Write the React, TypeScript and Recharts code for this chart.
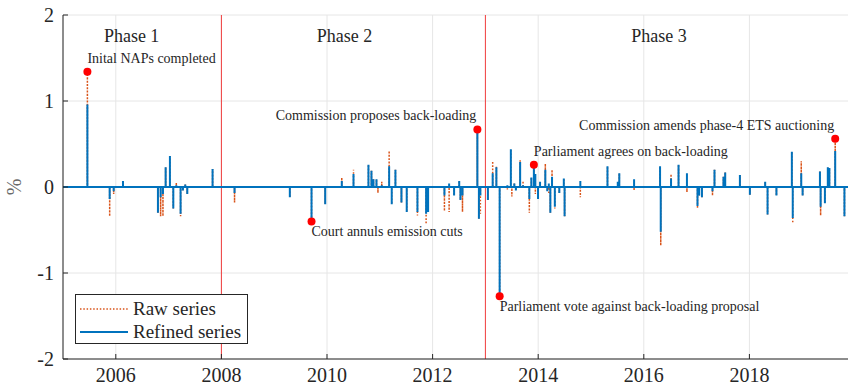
import {
  ComposedChart,
  Line,
  Scatter,
  XAxis,
  YAxis,
  CartesianGrid,
  ReferenceLine,
  Legend,
} from "recharts";

const FONT = '"Liberation Serif", "Times New Roman", serif';
const INK = "#262626";
const BLUE = "#0072BD";
const ORANGE = "#D95319";

// dates (decimal years) of non-zero daily moves
const spikeDates = [
  2005.462, 2005.884, 2005.96, 2006.136, 2006.798, 2006.849, 2006.893, 2006.944,
  2007.025, 2007.089, 2007.146, 2007.227, 2007.271, 2007.316, 2007.354, 2007.833,
  2008.249, 2009.296, 2009.707, 2009.966, 2010.28, 2010.502, 2010.785, 2010.842,
  2010.88, 2010.937, 2010.965, 2011.037, 2011.177, 2011.226, 2011.296, 2011.41,
  2011.51, 2011.713, 2011.877, 2011.915, 2012.224, 2012.313, 2012.407, 2012.504,
  2012.527, 2012.566, 2012.848, 2012.877, 2012.905, 2013.047, 2013.138, 2013.208,
  2013.27, 2013.416, 2013.482, 2013.501, 2013.548, 2013.577, 2013.658, 2013.713,
  2013.832, 2013.87, 2013.918, 2013.946, 2013.997, 2014.035, 2014.135, 2014.173,
  2014.201, 2014.23, 2014.262, 2014.315, 2014.4, 2014.485, 2014.5, 2014.798,
  2015.312, 2015.507, 2015.536, 2015.816, 2016.308, 2016.321, 2016.516, 2016.658,
  2016.817, 2017.017, 2017.049, 2017.101, 2017.301, 2017.339, 2017.509, 2017.542,
  2017.82, 2018.009, 2018.299, 2018.344, 2018.512, 2018.804, 2018.821, 2018.982,
  2019.008, 2019.336, 2019.349, 2019.43, 2019.485, 2019.515, 2019.625, 2019.8,
];

const refinedValues = [
  0.96, -0.14, -0.05, 0.07, -0.3, -0.12, -0.08, 0.23,
  0.36, -0.25, 0.02, -0.31, -0.04, 0.03, -0.08, 0.21,
  -0.07, -0.12, -0.4, -0.2, 0.07, 0.15, 0.26, 0.19,
  0.09, 0.09, 0, 0.02, 0.24, -0.2, 0.2, -0.18,
  -0.29, -0.29, -0.31, -0.29, -0.1, 0.04, -0.1, 0.07,
  -0.15, -0.1, 0.67, -0.37, -0.1, -0.15, 0.16, 0.23,
  -1.27, 0.02, 0.44, 0, 0.04, -0.04, 0.29, 0.02,
  -0.14, 0.11, 0.23, 0.15, -0.14, 0.06, 0.2, -0.05,
  0.04, -0.3, 0.12, -0.23, -0.07, 0.1, -0.34, 0.07,
  0.24, 0.06, 0.16, 0.09, 0.24, -0.52, 0.1, 0.26,
  0.16, -0.22, -0.1, -0.12, -0.05, 0.2, 0.12, 0.17,
  0.14, -0.09, 0.06, -0.32, -0.1, 0.41, -0.36, 0.16,
  -0.1, 0.18, -0.23, -0.19, 0.23, 0.22, 0.42, -0.34,
];

const rawValues = [
  1.34, -0.34, -0.08, 0.07, -0.3, -0.34, -0.34, 0.23,
  0.36, -0.25, 0.05, -0.34, -0.04, 0.03, -0.08, 0.21,
  -0.18, -0.12, -0.4, -0.2, 0.11, 0.2, 0.26, 0.19,
  0.09, 0.09, -0.07, 0.06, 0.42, -0.2, 0.2, -0.18,
  -0.29, -0.33, -0.43, -0.29, -0.28, -0.29, -0.1, 0.07,
  -0.15, -0.29, 0.67, -0.37, -0.31, -0.15, 0.3, 0.24,
  -1.27, -0.03, 0.44, -0.11, 0.04, -0.04, 0.31, 0.07,
  -0.3, 0.11, 0.26, -0.08, -0.14, 0.06, 0.27, -0.05,
  -0.08, -0.3, 0.2, -0.25, -0.07, 0.1, -0.34, -0.12,
  0.24, 0.06, 0.16, -0.04, 0.24, -0.68, 0.15, 0.26,
  -0.06, -0.25, -0.1, -0.12, -0.1, 0.2, 0.12, 0.17,
  0.14, -0.09, 0.06, -0.32, -0.1, 0.41, -0.42, 0.3,
  -0.1, 0.18, -0.33, -0.19, 0.23, 0.22, 0.56, -0.34,
];

const eventDates = [2005.462, 2009.707, 2012.848, 2013.27, 2013.918, 2019.625];
const eventValues = [1.34, -0.4, 0.67, -1.27, 0.26, 0.56];
const eventLabels = [
  "Inital NAPs completed",
  "Court annuls emission cuts",
  "Commission proposes back-loading",
  "Parliament vote against back-loading proposal",
  "Parliament agrees on back-loading",
  "Commission amends phase-4 ETS auctioning",
];
// where each annotation sits relative to its dot
const eventSide = ["above", "below", "above", "below", "above", "above"];
const eventAnchor = ["start", "start", "end", "start", "start", "end"];

const phaseNames = ["Phase 1", "Phase 2", "Phase 3"];
const phaseCenters = [2006.3, 2010.33, 2016.29];
const phaseLevel = 1.685;
const phaseStarts = [2008, 2013];

const yearTicks = [2006, 2008, 2010, 2012, 2014, 2016, 2018];
const valueTicks = [-2, -1, 0, 1, 2];

const series: { x: number; raw: number; refined: number }[] = [
  { x: 2005, raw: 0, refined: 0 },
];
spikeDates.forEach((d, i) => {
  series.push({ x: d, raw: 0, refined: 0 });
  series.push({ x: d, raw: rawValues[i], refined: refinedValues[i] });
  series.push({ x: d, raw: 0, refined: 0 });
});
series.push({ x: 2020, raw: 0, refined: 0 });

const events = eventDates.map((d, i) => ({ x: d, y: eventValues[i], i }));
const phases = phaseCenters.map((d, i) => ({ x: d, y: phaseLevel, i }));

function EventMarker(props: any) {
  const { cx, cy, payload } = props;
  const side = eventSide[payload.i];
  const anchor = eventAnchor[payload.i];
  const ty = side === "above" ? cy - 9 : cy + 15;
  const tx = anchor === "start" ? cx : cx - 1;
  return (
    <g>
      <circle cx={cx} cy={cy} r={4} fill="#ff0000" />
      <text x={tx} y={ty} textAnchor={anchor} fontSize={14} fontFamily={FONT} fill={INK}>
        {eventLabels[payload.i]}
      </text>
    </g>
  );
}

function PhaseText(props: any) {
  const { cx, cy, payload } = props;
  return (
    <text x={cx} y={cy} textAnchor="middle" fontSize={18} fontFamily={FONT} fill={INK}>
      {phaseNames[payload.i]}
    </text>
  );
}

function PercentLabel(props: any) {
  const { viewBox } = props;
  const x = viewBox.x + 11;
  const y = viewBox.y + viewBox.height / 2;
  return (
    <text
      x={x}
      y={y}
      transform={`rotate(-90 ${x} ${y})`}
      textAnchor="middle"
      dominantBaseline="central"
      fontSize={20}
      fontFamily={FONT}
      fill="#6a6a6a"
    >
      %
    </text>
  );
}

function LegendBox(props: any) {
  const entries = (props.payload || []).filter(
    (entry: any) => entry.dataKey === "raw" || entry.dataKey === "refined"
  );
  return (
    <div
      style={{
        border: `1px solid ${INK}`,
        background: "#fff",
        width: 173,
        height: 50,
        boxSizing: "border-box",
        paddingTop: 2,
        fontFamily: FONT,
        fontSize: 19,
        color: INK,
      }}
    >
      {entries.map((entry: any) => (
        <div key={entry.value} style={{ display: "flex", alignItems: "center", height: 23 }}>
          <svg width={57} height={6} style={{ display: "block" }}>
            <line
              x1={4}
              x2={52}
              y1={3}
              y2={3}
              stroke={entry.color}
              strokeWidth={entry.dataKey === "raw" ? 1.5 : 2}
              strokeDasharray={entry.dataKey === "raw" ? "1.5 1.8" : undefined}
            />
          </svg>
          <span style={{ lineHeight: "23px" }}>{entry.value}</span>
        </div>
      ))}
    </div>
  );
}

export default function App() {
  return (
    <div
      style={{
        position: "fixed",
        left: 0,
        top: 0,
        width: 848,
        height: 386,
        overflow: "hidden",
        background: "#fff",
      }}
    >
      <ComposedChart
        width={880}
        height={386}
        data={series}
        margin={{ top: 15, right: 25, bottom: 0, left: 3 }}
      >
        <CartesianGrid stroke="#e6e6e6" />
        <XAxis
          dataKey="x"
          type="number"
          domain={[2005, 2020]}
          ticks={yearTicks}
          allowDataOverflow
          height={27}
          stroke={INK}
          tickSize={-5}
          tickMargin={14}
          tick={{ fontSize: 20, fill: INK, fontFamily: FONT }}
        />
        <XAxis
          xAxisId="top"
          dataKey="x"
          type="number"
          orientation="top"
          domain={[2005, 2020]}
          ticks={yearTicks}
          allowDataOverflow
          height={0}
          stroke={INK}
          tickSize={-5}
          tick={false}
        />
        <YAxis
          type="number"
          domain={[-2, 2]}
          ticks={valueTicks}
          allowDataOverflow
          width={60}
          stroke={INK}
          tickSize={-5}
          tickMargin={14}
          tick={{ fontSize: 20, fill: INK, fontFamily: FONT }}
          label={{ value: "%", content: PercentLabel }}
        />
        {phaseStarts.map((d) => (
          <ReferenceLine key={d} x={d} stroke="#f03c3c" strokeWidth={1} />
        ))}
        <Line
          type="linear"
          dataKey="raw"
          name="Raw series"
          stroke={ORANGE}
          strokeWidth={1.5}
          strokeDasharray="1.5 1.8"
          dot={false}
          activeDot={false}
          isAnimationActive={false}
        />
        <Line
          type="linear"
          dataKey="refined"
          name="Refined series"
          stroke={BLUE}
          strokeWidth={2}
          dot={false}
          activeDot={false}
          isAnimationActive={false}
        />
        <Scatter
          data={phases}
          dataKey="y"
          shape={PhaseText}
          legendType="none"
          isAnimationActive={false}
        />
        <Scatter
          data={events}
          dataKey="y"
          shape={EventMarker}
          legendType="none"
          isAnimationActive={false}
        />
        <Legend
          layout="vertical"
          align="center"
          verticalAlign="middle"
          content={LegendBox}
          wrapperStyle={{ left: 75, top: 294, width: 175 }}
        />
      </ComposedChart>
    </div>
  );
}
